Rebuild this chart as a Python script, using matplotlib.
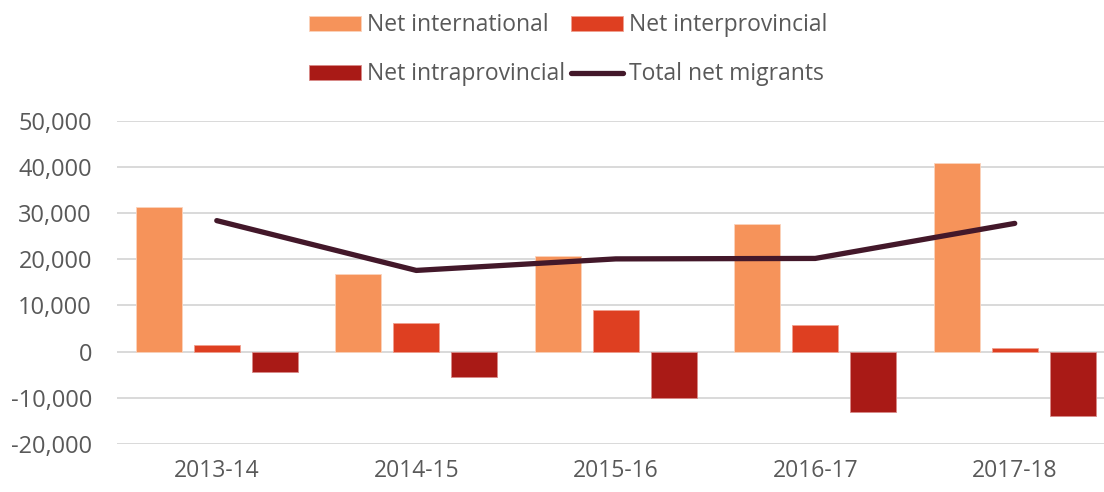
import numpy as np
import matplotlib.pyplot as plt
from matplotlib.ticker import FuncFormatter

plt.rcParams['font.family'] = ['Open Sans', 'DejaVu Sans']

years = ['2013-14', '2014-15', '2015-16', '2016-17', '2017-18']
net_international = [31300, 16900, 20800, 27700, 40900]
net_interprovincial = [1500, 6300, 9100, 5700, 800]
net_intraprovincial = [-4400, -5600, -10000, -13200, -14000]
total_net = [28400, 17600, 20100, 20200, 27800]

c_intl = '#F6935A'
c_inter = '#DE3F21'
c_intra = '#A91A16'
c_total = '#43182A'
text_gray = '#595959'
fs = 16.5

fig = plt.figure(figsize=(11.04, 4.92), dpi=100)
# plot area runs slightly past the right edge, as in the source
ax = fig.add_axes([0.106, 0.098, 0.9035, 0.656])

x = np.arange(len(years))
w = 0.23
off = 0.291

b1 = ax.bar(x - off, net_international, w, color=c_intl, edgecolor='#FBD3BC', linewidth=0.6, zorder=3)
b2 = ax.bar(x, net_interprovincial, w, color=c_inter, edgecolor='#F0A08F', linewidth=0.6, zorder=3)
b3 = ax.bar(x + off, net_intraprovincial, w, color=c_intra, edgecolor='#D88A88', linewidth=0.6, zorder=3)
l1, = ax.plot(x, total_net, color=c_total, linewidth=3.8, solid_capstyle='round',
              solid_joinstyle='round', zorder=4)

ax.set_xlim(-0.5, len(years) - 0.5)
ax.set_ylim(-20000, 50000)
ax.set_yticks(range(-20000, 50001, 10000))
ax.yaxis.set_major_formatter(FuncFormatter(lambda v, p: f'{int(v):,}'))
ax.set_xticks(x)
ax.set_xticklabels(years)

ax.grid(axis='y', color='#D9D9D9', linewidth=1.4, zorder=0)
ax.set_axisbelow(True)
for s in ax.spines.values():
    s.set_visible(False)
ax.tick_params(axis='both', length=0, labelsize=fs, labelcolor=text_gray)
ax.tick_params(axis='y', labelsize=17, pad=18)
ax.tick_params(axis='x', pad=11)

# order so the two rows read: intl, inter / intra, total
handles = [b1, b3, b2, l1]
labels = ['Net international', 'Net intraprovincial', 'Net interprovincial', 'Total net migrants']
leg = fig.legend(handles, labels, ncol=2, loc='upper center', bbox_to_anchor=(0.5145, 1.015),
                 frameon=False, fontsize=fs, labelcolor=text_gray, handlelength=2.27,
                 handleheight=0.65, handletextpad=0.26, columnspacing=0.25, labelspacing=1.1)

fig.savefig('out.png', dpi=100)
